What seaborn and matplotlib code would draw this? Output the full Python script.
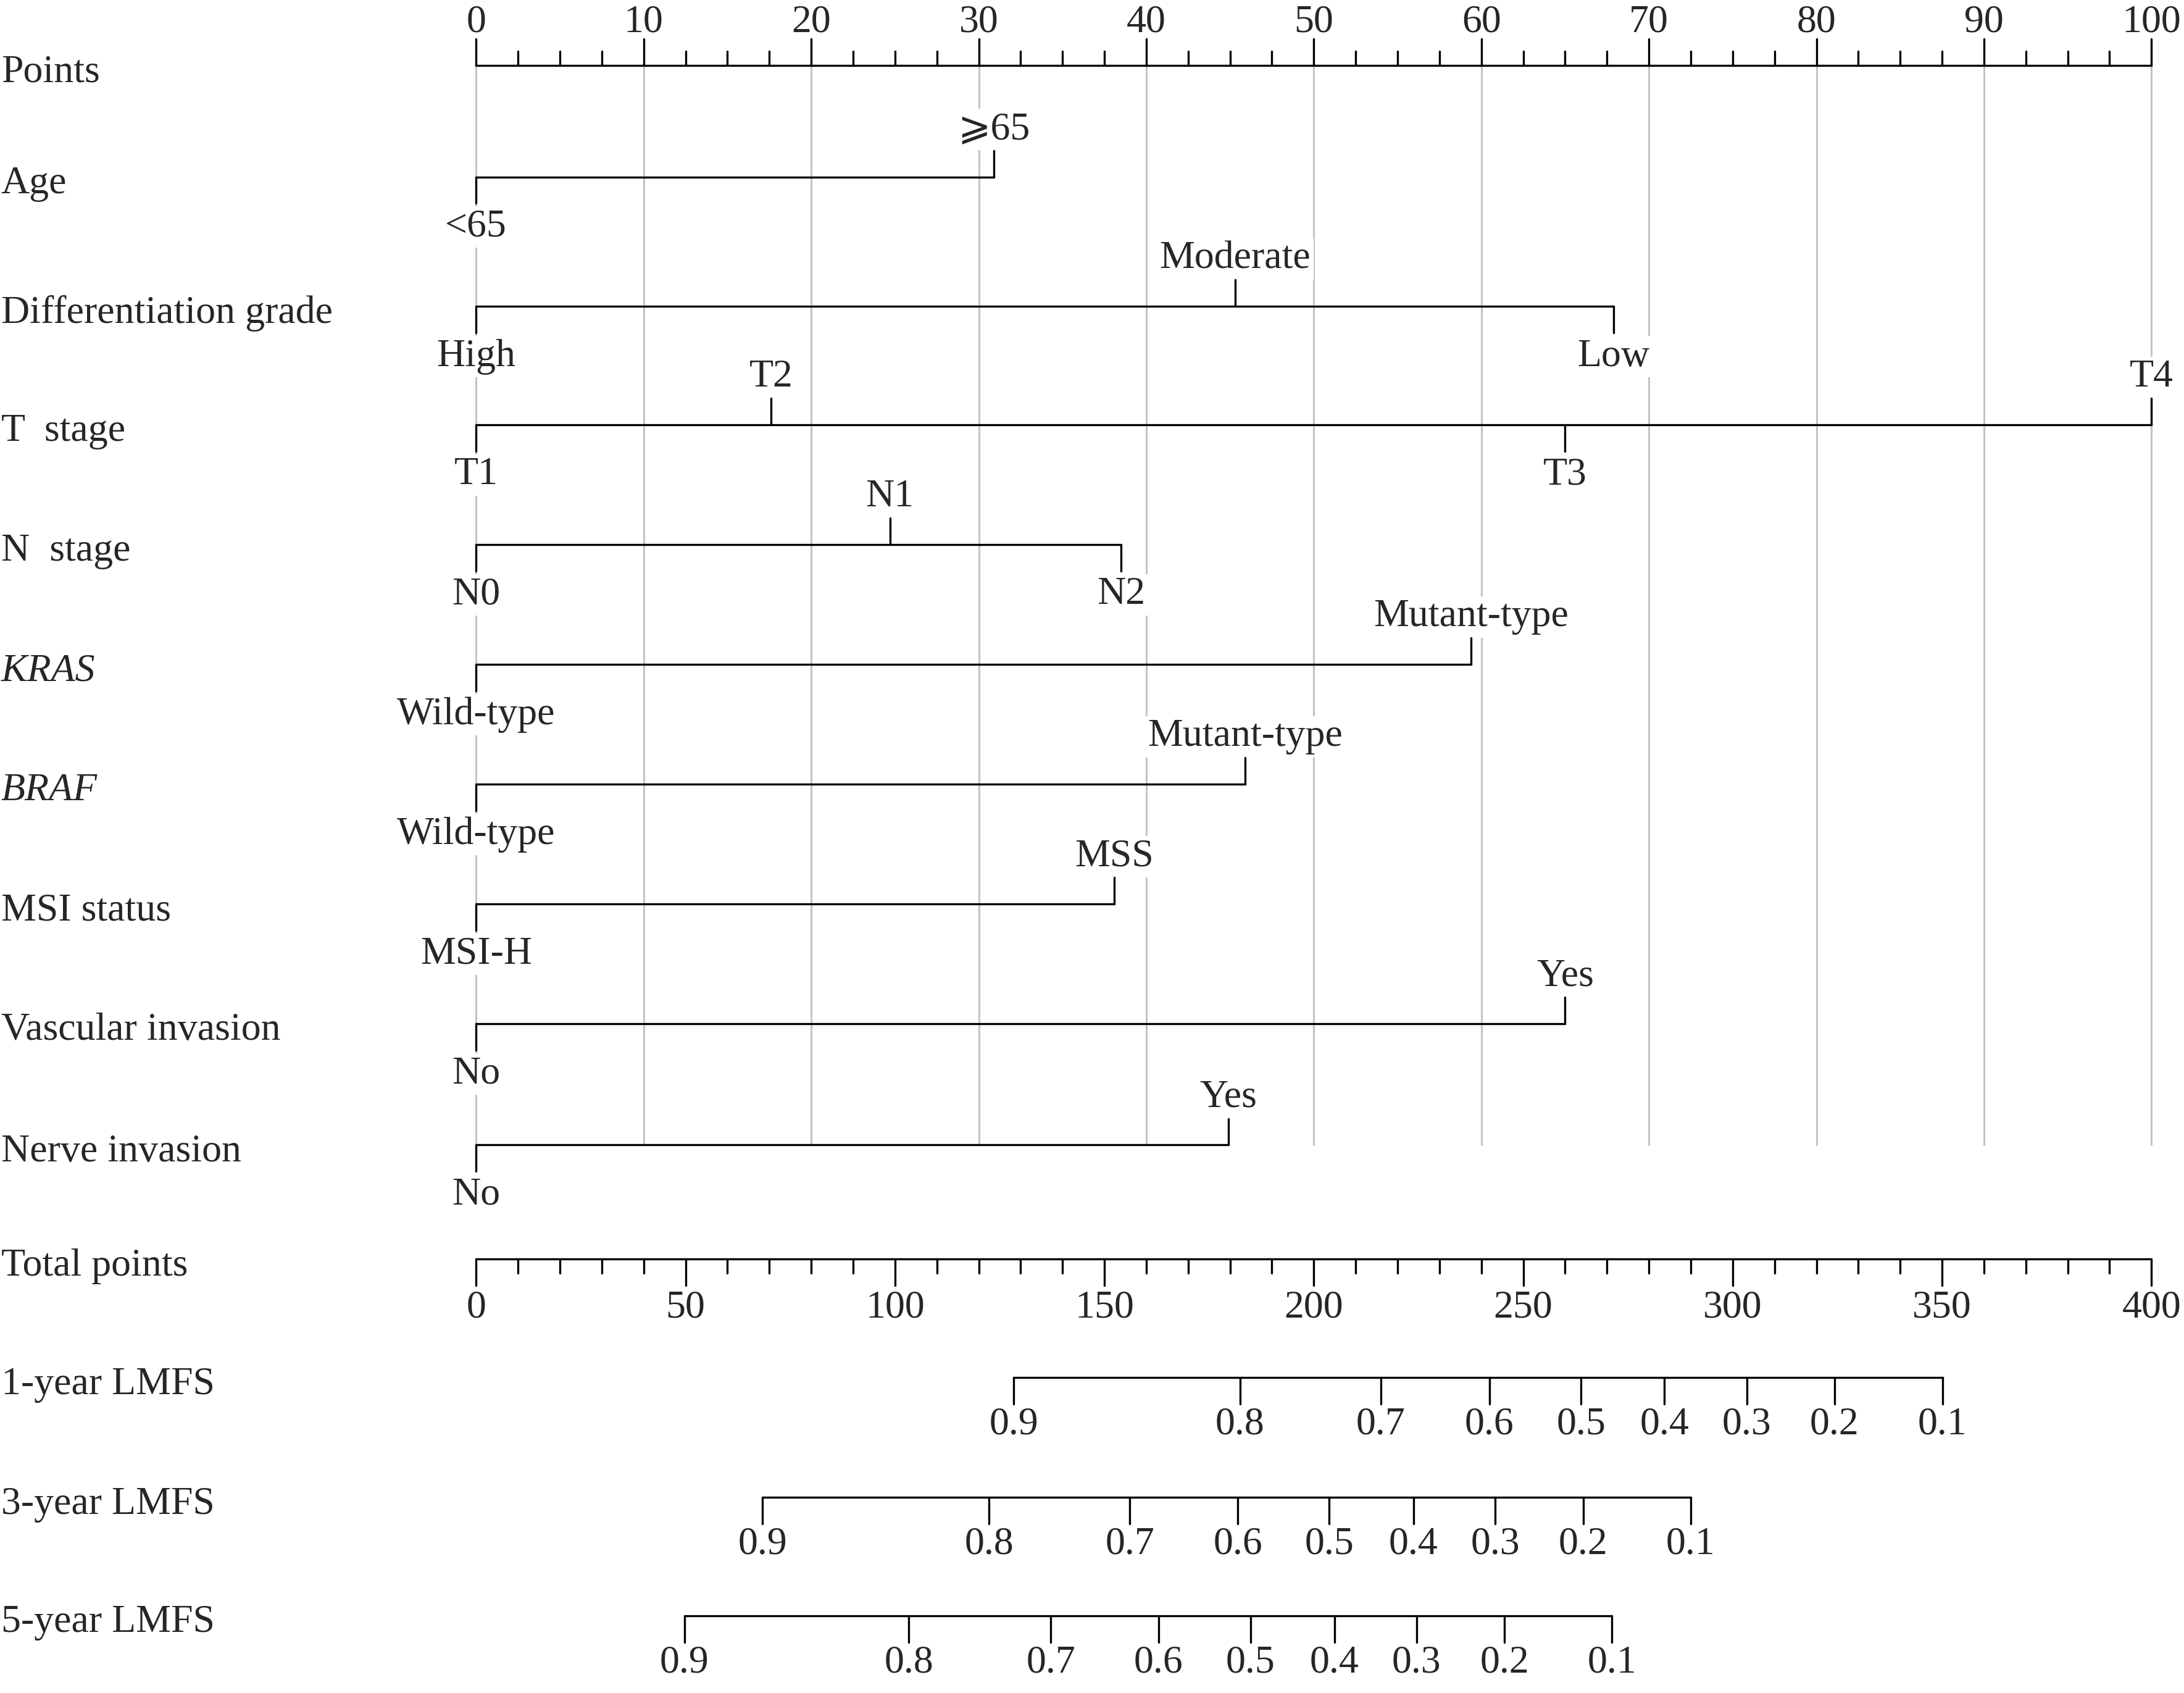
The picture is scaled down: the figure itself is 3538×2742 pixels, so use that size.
import numpy as np
import pandas as pd
import matplotlib
matplotlib.use('Agg')
import matplotlib.pyplot as plt
import matplotlib.transforms as mtransforms
import seaborn as sns

# Nomogram values (points scale 0-100)
points_ticks = list(range(0, 101, 10))
total_ticks = list(range(0, 401, 50))

age_levels = ['<65', '⩾65']
age_points = [0, 30.9]
grade_levels = ['High', 'Moderate', 'Low']
grade_points = [0, 45.3, 67.9]
t_levels = ['T1', 'T2', 'T3', 'T4']
t_points = [0, 17.6, 65.0, 100]
n_levels = ['N0', 'N1', 'N2']
n_points = [0, 24.7, 38.5]
kras_levels = ['Wild-type', 'Mutant-type']
kras_points = [0, 59.4]
braf_levels = ['Wild-type', 'Mutant-type']
braf_points = [0, 45.9]
msi_levels = ['MSI-H', 'MSS']
msi_points = [0, 38.1]
vascular_levels = ['No', 'Yes']
vascular_points = [0, 65.0]
nerve_levels = ['No', 'Yes']
nerve_points = [0, 44.9]

# survival probability scales (positions given in total points)
surv_probs = [0.9, 0.8, 0.7, 0.6, 0.5, 0.4, 0.3, 0.2, 0.1]
lmfs_1yr_total = [128.4, 182.4, 216.0, 241.9, 263.8, 283.7, 303.4, 324.3, 350.1]
lmfs_3yr_total = [68.4, 122.5, 156.1, 181.9, 203.7, 223.8, 243.3, 264.3, 290.0]
lmfs_5yr_total = [49.7, 103.3, 137.2, 162.9, 184.9, 204.9, 224.5, 245.5, 271.2]

row_names = ['Points', 'Age', 'Differentiation grade', 'T  stage', 'N  stage',
             'KRAS', 'BRAF', 'MSI status', 'Vascular invasion', 'Nerve invasion',
             'Total points', '1-year LMFS', '3-year LMFS', '5-year LMFS']

factors = [
    (age_levels, age_points),
    (grade_levels, grade_points),
    (t_levels, t_points),
    (n_levels, n_points),
    (kras_levels, kras_points),
    (braf_levels, braf_points),
    (msi_levels, msi_points),
    (vascular_levels, vascular_points),
    (nerve_levels, nerve_points),
]
lmfs_rows = [lmfs_1yr_total, lmfs_3yr_total, lmfs_5yr_total]

# layout (vertical units = pixels of the reference at 1568 px width)
row_y = [47, 127, 220, 305, 391, 477, 563, 649, 735, 822, 904, 989, 1075, 1160]
fig_h_units = 1215.4
tick_long = 19
tick_short = 10
lab_up = 34
lab_down = 36
pts_per_total = 100 / 400

sns.set_style('white')
plt.rcParams['font.family'] = ['Liberation Serif', 'DejaVu Serif', 'DejaVu Sans']
plt.rcParams['font.size'] = 23

fig = plt.figure(figsize=(3538 / 200, 2742 / 200), dpi=200)
ax = fig.add_axes([0, 0, 1, 1])

grid_rows = []
line_rows = []
texts = []
seg = 0


def add_seg(rows, x0, y0, x1, y1):
    global seg
    rows.append({'seg': seg, 'x': x0, 'y': y0})
    rows.append({'seg': seg, 'x': x1, 'y': y1})
    seg += 1


# vertical grid lines
for v in points_ticks:
    add_seg(grid_rows, v, row_y[0], v, row_y[9])

# Points axis (ticks upward)
y0 = row_y[0]
add_seg(line_rows, 0, y0, 100, y0)
for v in np.arange(0, 100.01, 2.5):
    ln = tick_long if v % 10 == 0 else tick_short
    add_seg(line_rows, v, y0, v, y0 - ln)
for v in points_ticks:
    texts.append((v, y0 - 31, str(v)))

# factor rows
for i, (levels, pts) in enumerate(factors):
    y = row_y[i + 1]
    add_seg(line_rows, min(pts), y, max(pts), y)
    for j, (lab, p) in enumerate(zip(levels, pts)):
        if j % 2 == 0:
            add_seg(line_rows, p, y, p, y + tick_long)
            texts.append((p, y + lab_down, lab))
        else:
            add_seg(line_rows, p, y, p, y - tick_long)
            texts.append((p, y - lab_up, lab))

# Total points axis (ticks downward)
y = row_y[10]
add_seg(line_rows, 0, y, 400 * pts_per_total, y)
for v in range(0, 401, 10):
    ln = tick_long if v % 50 == 0 else tick_short
    add_seg(line_rows, v * pts_per_total, y, v * pts_per_total, y + ln)
for v in total_ticks:
    texts.append((v * pts_per_total, y + 35, str(v)))

# LMFS scales
for k, tot in enumerate(lmfs_rows):
    y = row_y[11 + k]
    xs = [t * pts_per_total for t in tot]
    add_seg(line_rows, min(xs), y, max(xs), y)
    for p, x in zip(surv_probs, xs):
        add_seg(line_rows, x, y, x, y + tick_long)
        texts.append((x, y + 34, f'{p:.1f}'))

grid_df = pd.DataFrame(grid_rows)
line_df = pd.DataFrame(line_rows)

sns.lineplot(data=grid_df, x='x', y='y', units='seg', estimator=None, sort=False,
             color='#c4c4c4', linewidth=1.1, ax=ax, legend=False, zorder=1)
sns.lineplot(data=line_df, x='x', y='y', units='seg', estimator=None, sort=False,
             color='black', linewidth=1.2, ax=ax, legend=False, zorder=4)

for x, y, s in texts:
    ax.text(x, y, s, ha='center', va='center', zorder=3,
            bbox=dict(facecolor='white', edgecolor='none', pad=1.5))

# row titles on the left
trans = mtransforms.blended_transform_factory(ax.transAxes, ax.transData)
for name, y in zip(row_names, row_y):
    ax.text(0.0005, y + 5, name, ha='left', va='center', transform=trans,
            style='italic' if name in ('KRAS', 'BRAF') else 'normal')

x_left = -771.3 / 27.14
x_right = (3538 - 771.3) / 27.14
ax.set_xlim(x_left, x_right)
ax.set_ylim(fig_h_units, 0)
ax.set_axis_off()

fig.savefig('out.png', dpi=200, facecolor='white')
